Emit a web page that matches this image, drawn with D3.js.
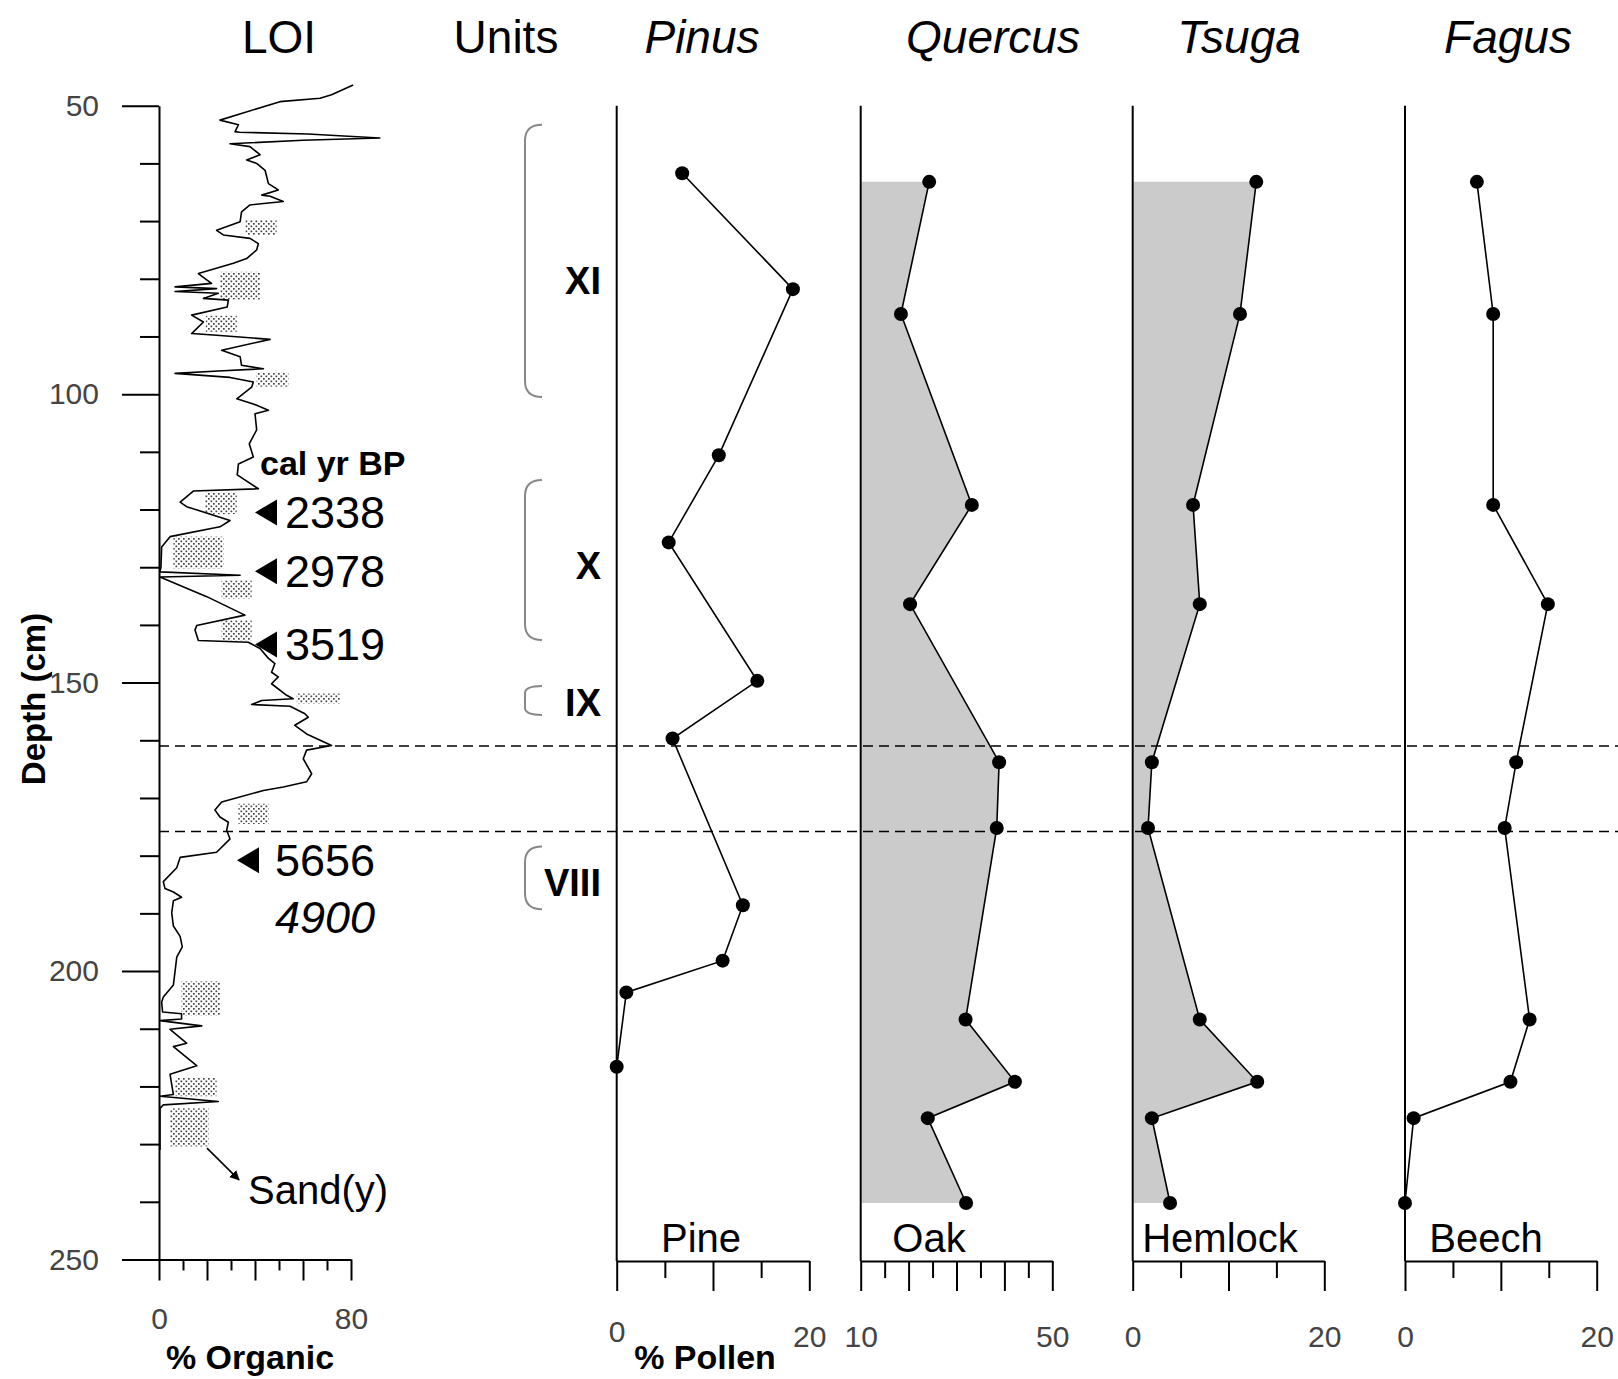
<!DOCTYPE html>
<html>
<head>
<meta charset="utf-8">
<script src="https://cdnjs.cloudflare.com/ajax/libs/d3/7.8.5/d3.min.js"></script>
<style>
  body { margin: 0; background: #fff; }
  svg text { font-family: "Liberation Sans", Arial, sans-serif; }
</style>
</head>
<body>
<div id="chart"></div>
<script>
// ---- LOI record (depth in cm, % organic) ----
const loiDepth = [46.4, 48.1, 48.7, 49.3, 52.5, 53.3, 54.5, 54.6, 54.9, 55.6, 56.0, 56.6, 57.1, 58.5, 59.4, 60.0,
    61.2, 63.5, 64.6, 65.5, 65.7, 66.6, 67.2, 68.4, 70.1, 71.6, 72.4, 73.0, 73.9, 75.0, 76.5, 77.3,
    79.1, 80.2, 80.8, 81.4, 81.7, 82.2, 82.5, 83.4, 83.7, 84.9, 86.3, 87.5, 89.5, 89.8, 90.5, 92.4,
    93.5, 95.0, 95.6, 96.0, 96.4, 97.1, 97.9, 98.8, 100.8, 101.7, 102.8, 103.4, 106.2, 108.6, 110.9, 112.1,
    114.0, 116.4, 116.8, 118.7, 119.5, 121.9, 123.0, 124.7, 126.5, 130.0, 130.8, 131.4, 131.7, 135.1, 138.3, 140.1,
    140.9, 142.7, 143.0, 144.1, 145.8, 146.7, 148.2, 149.0, 150.2, 152.2, 152.8, 153.1, 153.8, 154.1, 155.4, 156.0,
    157.4, 158.9, 160.9, 161.7, 163.2, 165.8, 167.2, 168.1, 168.7, 170.7, 172.1, 173.3, 174.2, 175.6, 177.1, 179.4,
    180.3, 182.1, 184.5, 185.7, 186.3, 187.2, 187.8, 189.9, 192.2, 194.0, 195.8, 197.6, 200.0, 202.4, 204.5, 205.4,
    207.1, 207.4, 208.3, 208.6, 209.5, 210.1, 212.5, 213.1, 216.4, 217.9, 221.4, 221.7, 222.6, 223.2, 223.8, 231.0]
const loiOrganic = [80.9, 71.9, 67.1, 50.4, 25.4, 33.1, 31.7, 33.5, 62.0, 92.0, 60.0, 29.6, 37.9, 42.1, 36.5, 40.7,
    44.2, 45.6, 49.7, 42.8, 46.3, 51.8, 37.9, 34.4, 33.8, 24.0, 26.8, 37.9, 41.4, 40.7, 36.5, 31.0,
    16.4, 19.9, 21.9, 6.7, 24.0, 6.7, 24.7, 18.5, 28.9, 28.4, 13.6, 18.5, 13.6, 24.0, 46.3, 26.1,
    33.8, 34.4, 43.5, 24.7, 6.7, 29.6, 39.3, 38.6, 32.4, 39.3, 45.6, 40.0, 40.7, 37.6, 39.3, 33.1,
    32.6, 41.4, 14.3, 8.8, 11.5, 29.6, 25.4, 4.6, 1.1, 0.8, 0.4, 33.8, 0.4, 19.9, 35.8, 15.7,
    15.0, 16.4, 37.2, 42.1, 45.6, 48.3, 46.9, 49.7, 46.9, 53.2, 55.9, 42.8, 38.6, 54.6, 60.8, 62.2,
    56.6, 61.5, 71.9, 61.5, 60.1, 63.6, 61.5, 51.8, 43.5, 26.1, 23.3, 25.4, 28.9, 28.2, 29.6, 24.0,
    8.8, 7.4, 1.8, 2.5, 6.0, 9.4, 6.0, 5.3, 6.0, 8.8, 9.7, 7.4, 6.7, 6.0, 1.8, 1.1,
    1.5, 9.4, 9.4, 0.4, 17.8, 4.6, 11.5, 6.0, 15.7, 4.6, 6.0, 0.4, 24.7, 1.8, 0.4, 0.4]

// sandy layers: [top depth, bottom depth, min %, max %]
const sandLayers = [
    [69.8, 72.4, 36.0, 49.0], [78.8, 83.6, 25.5, 42.1], [86.4, 89.2, 19.5, 32.4], [96.2, 98.7, 40.7, 53.9],
    [117.0, 120.8, 19.2, 32.4], [124.7, 130.2, 6.0, 26.8], [132.3, 135.4, 26.1, 38.6], [139.2, 142.7, 26.1, 38.6],
    [151.9, 153.6, 57.4, 75.4], [171.0, 174.5, 33.1, 45.6], [201.8, 207.7, 9.4, 25.4], [218.5, 221.7, 6.7, 24.0],
    [223.8, 230.4, 4.6, 20.6]]

// radiocarbon dates
const calDepth = [120.5, 130.7, 143.4, 180.8]
const calAge = ['2338', '2978', '3519', '5656']

// stratigraphic units
const unitNames = ['XI', 'X', 'IX', 'VIII']
const unitTop = [53.3, 114.9, 150.6, 178.4]
const unitBottom = [100.5, 142.6, 155.6, 189.3]
const unitLabelDepth = [80.4, 129.7, 153.4, 184.6]

// horizons marked with dashed lines
const horizonDepth = [161.0, 175.8]

// ---- pollen (%) ----
const pinusDepth = [61.7, 81.8, 110.6, 125.7, 149.7, 159.7, 188.6, 198.2, 203.7, 216.6]
const pinusPct = [6.8, 18.3, 10.6, 5.4, 14.6, 5.8, 13.1, 11.0, 1.0, 0]
const sampleDepth = [63.2, 86.1, 119.2, 136.4, 163.8, 175.2, 208.4, 219.2, 225.5, 240.2]
const quercusPct = [24.3, 18.4, 33.2, 20.3, 38.9, 38.4, 31.9, 42.2, 24.0, 32.0]
const tsugaPct = [12.9, 11.2, 6.3, 7.0, 2.0, 1.6, 7.0, 13.0, 2.0, 3.9]
const fagusPct = [7.5, 9.2, 9.2, 14.9, 11.6, 10.4, 13.0, 11.0, 0.9, 0]


const fullWidth = 1618
const fullHeight = 1379

const svg = d3.select('#chart')
    .append('svg')
    .attr('width', fullWidth)
    .attr('height', fullHeight)
    .style('background', '#fff')

// stipple pattern for sand
const pat = svg.append('defs').append('pattern')
    .attr('id', 'stipple')
    .attr('patternUnits', 'userSpaceOnUse')
    .attr('width', 5)
    .attr('height', 5)
pat.append('rect').attr('x', 0.5).attr('y', 0.5).attr('width', 1.7).attr('height', 1.7).attr('fill', '#444')
pat.append('rect').attr('x', 3).attr('y', 3).attr('width', 1.7).attr('height', 1.7).attr('fill', '#444')

const y = d3.scaleLinear().domain([50, 250]).range([105.7, 1259.5])
const xLoi = d3.scaleLinear().domain([0, 80]).range([159, 351])
const pollenBase = 1261

// ---- depth axis ----
const depthAxis = svg.append('g')
    .attr('transform', 'translate(159,0)')
    .call(d3.axisLeft(y).tickValues(d3.range(50, 251, 50)).tickSize(37).tickSizeOuter(0).tickPadding(23))
depthAxis.select('.domain').attr('stroke-width', 2)
depthAxis.selectAll('.tick line').attr('stroke-width', 2)
depthAxis.selectAll('text').attr('font-size', 30).attr('fill', '#444')

const depthMinor = svg.append('g')
    .attr('transform', 'translate(159,0)')
    .call(d3.axisLeft(y).tickValues(d3.range(60, 250, 10).filter(d => d % 50 != 0)).tickSize(19).tickFormat(''))
depthMinor.select('.domain').remove()
depthMinor.selectAll('.tick line').attr('stroke-width', 2)

svg.append('text')
    .attr('transform', 'translate(33,699) rotate(-90)')
    .attr('text-anchor', 'middle')
    .attr('dy', '0.35em')
    .attr('font-size', 33)
    .attr('font-weight', 'bold')
    .text('Depth (cm)')

// ---- LOI x axis ----
const loiAxis = svg.append('g')
    .attr('transform', 'translate(0,' + y(250) + ')')
    .call(d3.axisBottom(xLoi).tickValues([0, 20, 40, 60, 80]).tickSize(21).tickSizeOuter(0).tickPadding(27)
        .tickFormat(d => (d == 0 || d == 80) ? d : ''))
loiAxis.select('.domain').attr('stroke-width', 2)
loiAxis.selectAll('.tick line').attr('stroke-width', 2)
loiAxis.selectAll('text').attr('font-size', 30).attr('fill', '#444')

const loiMinor = svg.append('g')
    .attr('transform', 'translate(0,' + y(250) + ')')
    .call(d3.axisBottom(xLoi).tickValues([10, 30, 50, 70]).tickSize(11).tickFormat(''))
loiMinor.select('.domain').remove()
loiMinor.selectAll('.tick line').attr('stroke-width', 2)

svg.append('text')
    .attr('x', 250).attr('y', 1357)
    .attr('text-anchor', 'middle').attr('dy', '0.35em')
    .attr('font-size', 34).attr('font-weight', 'bold')
    .text('% Organic')

// sand layers
svg.append('g')
    .selectAll('rect')
    .data(sandLayers)
    .enter()
    .append('rect')
    .attr('x', d => xLoi(d[2]))
    .attr('y', d => y(d[0]))
    .attr('width', d => xLoi(d[3]) - xLoi(d[2]))
    .attr('height', d => y(d[1]) - y(d[0]))
    .attr('fill', 'url(#stipple)')

// LOI curve
const loiData = loiDepth.map((d, i) => ({ depth: d, v: loiOrganic[i] }))
svg.append('path')
    .datum(loiData)
    .attr('fill', 'none')
    .attr('stroke', '#000')
    .attr('stroke-width', 1.6)
    .attr('stroke-linejoin', 'round')
    .attr('d', d3.line().x(d => xLoi(d.v)).y(d => y(d.depth)))

// cal yr BP markers
svg.append('text')
    .attr('x', 260).attr('y', y(112.0))
    .attr('dy', '0.35em')
    .attr('font-size', 34).attr('font-weight', 'bold')
    .text('cal yr BP')

const markers = svg.append('g')
    .selectAll('g')
    .data(calDepth)
    .enter()
    .append('g')
    .attr('transform', (d, i) => 'translate(' + (i == 3 ? 237 : 255) + ',' + y(d) + ')')
markers.append('path')
    .attr('d', 'M0,0 L22,-13 L22,13 Z')
    .attr('fill', '#000')
markers.append('text')
    .attr('x', (d, i) => i == 3 ? 38 : 30)
    .attr('dy', '0.35em')
    .attr('font-size', 45)
    .text((d, i) => calAge[i])

svg.append('text')
    .attr('x', 275).attr('y', y(190.7))
    .attr('dy', '0.35em')
    .attr('font-size', 45).attr('font-style', 'italic')
    .text('4900')

// Sand(y) pointer
svg.append('defs').append('marker')
    .attr('id', 'arrow')
    .attr('viewBox', '0 0 10 10')
    .attr('refX', 9).attr('refY', 5)
    .attr('markerWidth', 10).attr('markerHeight', 10)
    .attr('markerUnits', 'userSpaceOnUse')
    .attr('orient', 'auto')
    .append('path').attr('d', 'M0,0 L10,5 L0,10 Z').attr('fill', '#000')
svg.append('line')
    .attr('x1', 207).attr('y1', y(230.7))
    .attr('x2', 239).attr('y2', y(236.2))
    .attr('stroke', '#000').attr('stroke-width', 1.6)
    .attr('marker-end', 'url(#arrow)')
svg.append('text')
    .attr('x', 248).attr('y', y(237.9))
    .attr('dy', '0.35em')
    .attr('font-size', 40)
    .text('Sand(y)')

// ---- units ----
const units = svg.append('g')
    .selectAll('g')
    .data(unitNames)
    .enter()
    .append('g')
units.append('path')
    .attr('d', (d, i) => {
        let y0 = y(unitTop[i]), y1 = y(unitBottom[i])
        let r = Math.min(16, (y1 - y0) / 4)
        return 'M542,' + y0 + ' Q525,' + y0 + ' 525,' + (y0 + r) + ' L525,' + (y1 - r) + ' Q525,' + y1 + ' 542,' + y1
    })
    .attr('fill', 'none')
    .attr('stroke', '#888')
    .attr('stroke-width', 2)
units.append('text')
    .attr('x', 601)
    .attr('y', (d, i) => y(unitLabelDepth[i]))
    .attr('text-anchor', 'end')
    .attr('dy', '0.35em')
    .attr('font-size', 38).attr('font-weight', 'bold')
    .text(d => d)

// ---- headers ----
const headers = [
    { text: 'LOI', x: 279, italic: false },
    { text: 'Units', x: 506, italic: false },
    { text: 'Pinus', x: 702, italic: true },
    { text: 'Quercus', x: 993, italic: true },
    { text: 'Tsuga', x: 1239, italic: true },
    { text: 'Fagus', x: 1508, italic: true }
]
svg.append('g')
    .selectAll('text')
    .data(headers)
    .enter()
    .append('text')
    .attr('x', d => d.x).attr('y', 37)
    .attr('text-anchor', 'middle').attr('dy', '0.35em')
    .attr('font-size', 46)
    .attr('font-style', d => d.italic ? 'italic' : 'normal')
    .text(d => d.text)

// ---- pollen panels ----
const panels = [
    { name: 'Pine', range: [616.7, 809.3], domain: [0, 20], major: [0, 10, 20], minor: [5, 15], depth: pinusDepth, values: pinusPct, fill: false, labelX: 701 },
    { name: 'Oak', range: [860.7, 1052.3], domain: [10, 50], major: [10, 20, 30, 40, 50], minor: [15, 25, 35, 45], depth: sampleDepth, values: quercusPct, fill: true, labelX: 929 },
    { name: 'Hemlock', range: [1132.7, 1324.3], domain: [0, 20], major: [0, 10, 20], minor: [5, 15], depth: sampleDepth, values: tsugaPct, fill: true, labelX: 1220 },
    { name: 'Beech', range: [1405, 1596.7], domain: [0, 20], major: [0, 10, 20], minor: [5, 15], depth: sampleDepth, values: fagusPct, fill: false, labelX: 1486 }
]

panels.forEach(p => {
    p.x = d3.scaleLinear().domain(p.domain).range(p.range)
    p.data = p.depth.map((d, i) => ({ depth: d, v: p.values[i] }))
    if (p.fill) {
        svg.append('path')
            .datum(p.data)
            .attr('fill', '#cbcbcb')
            .attr('d', d3.area().y(d => y(d.depth)).x0(p.x(p.domain[0]) + 1).x1(d => p.x(d.v)))
    }
})

// dashed horizons
svg.append('g')
    .selectAll('line')
    .data(horizonDepth)
    .enter()
    .append('line')
    .attr('x1', 159).attr('x2', fullWidth)
    .attr('y1', d => y(d)).attr('y2', d => y(d))
    .attr('stroke', '#000')
    .attr('stroke-width', 1.5)
    .attr('stroke-dasharray', '10,6')

panels.forEach((p, k) => {
    let x = p.x
    svg.append('line')
        .attr('x1', x(p.domain[0])).attr('x2', x(p.domain[0]))
        .attr('y1', y(50)).attr('y2', pollenBase)
        .attr('stroke', '#000').attr('stroke-width', 2)

    let ax = svg.append('g')
        .attr('transform', 'translate(0,' + pollenBase + ')')
        .call(d3.axisBottom(x).tickValues(p.major).tickSize(30).tickSizeOuter(0).tickPadding(35)
            .tickFormat(d => (d == p.domain[0] || d == p.domain[1]) ? d : ''))
    ax.select('.domain').attr('stroke-width', 2)
    ax.selectAll('.tick line').attr('stroke-width', 2)
    ax.selectAll('text').attr('font-size', 30).attr('fill', '#444')
    if (k == 0) {
        ax.select('.tick text').attr('y', 60)
    }

    let mn = svg.append('g')
        .attr('transform', 'translate(0,' + pollenBase + ')')
        .call(d3.axisBottom(x).tickValues(p.minor).tickSize(17).tickFormat(''))
    mn.select('.domain').remove()
    mn.selectAll('.tick line').attr('stroke-width', 2)

    svg.append('path')
        .datum(p.data)
        .attr('fill', 'none')
        .attr('stroke', '#000')
        .attr('stroke-width', 1.6)
        .attr('d', d3.line().x(d => x(d.v)).y(d => y(d.depth)))

    svg.append('g')
        .selectAll('circle')
        .data(p.data)
        .enter()
        .append('circle')
        .attr('cx', d => x(d.v))
        .attr('cy', d => y(d.depth))
        .attr('r', 7)
        .attr('fill', '#000')

    svg.append('text')
        .attr('x', p.labelX).attr('y', 1238)
        .attr('text-anchor', 'middle').attr('dy', '0.35em')
        .attr('font-size', 40)
        .text(p.name)
})

svg.append('text')
    .attr('x', 705).attr('y', 1357)
    .attr('text-anchor', 'middle').attr('dy', '0.35em')
    .attr('font-size', 34).attr('font-weight', 'bold')
    .text('% Pollen')
</script>
</body>
</html>
